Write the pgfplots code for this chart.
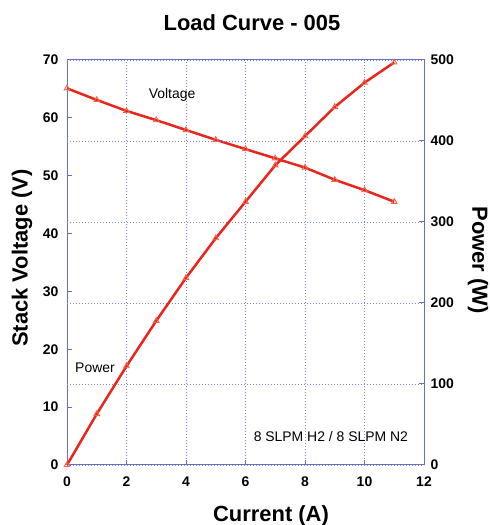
\documentclass[border=0pt]{standalone}
\usepackage{fontspec}
\setmainfont{Liberation Sans}
\usepackage{pgfplots}
\usepackage{pgfplotstable}
\pgfplotsset{compat=1.18}
\definecolor{axisblue}{RGB}{105,110,205}
\definecolor{curvered}{RGB}{232,38,30}
\definecolor{markred}{RGB}{242,100,75}
\pgfplotstableread{
I V P
0 65.1 0
1 63.1 63
2 61.2 122
3 59.6 178
4 57.9 231
5 56.2 280
6 54.6 325
7 53.0 370
8 51.4 406
9 49.3 442
10 47.5 472
11 45.5 497
}\datatable
\begin{document}
\begin{tikzpicture}
\path[use as bounding box] (0bp,0bp) rectangle (490bp,525bp);
\pgfplotsset{
  common/.style={
    at={(67bp,60bp)}, anchor=south west,
    scale only axis, width=357bp, height=405bp,
    xmin=0, xmax=12, clip=false,
    axis line style={axisblue, line width=1bp},
    major tick style={axisblue, line width=1bp},
    major tick length=5bp,
    tick align=inside,
    grid style={axisblue!85, line width=0.9bp, dash pattern=on 1bp off 2bp},
    /pgf/number format/assume math mode=true,
    tick label style={font=\fontsize{14}{14}\selectfont\bfseries, black},
  },
  curve/.style={curvered, line width=2.5bp, mark=triangle, mark size=3.2bp,
    mark options={markred, line width=0.9bp, solid}},
}
\begin{axis}[common, ymin=0, ymax=70,
  xtick={0,2,...,12}, ytick={0,10,...,70},
  xtick pos=bottom, ytick pos=left, xmajorgrids,
  yticklabel style={xshift=-5bp}, xticklabel style={yshift=-8bp}]
\addplot[curve] table[x=I,y=V]{\datatable};
\node[font=\fontsize{14}{14}\selectfont] at (axis cs:3.53,64.0) {Voltage};
\node[font=\fontsize{14}{14}\selectfont] at (axis cs:0.94,16.8) {Power};
\node[font=\fontsize{14}{14}\selectfont] at (axis cs:8.87,4.84) {8 SLPM H2 / 8 SLPM N2};
\end{axis}
\begin{axis}[common, ymin=0, ymax=500,
  axis x line=none, axis y line*=right,
  ytick={0,100,...,500}, ymajorgrids,
  yticklabel style={xshift=3bp}]
\addplot[curve] table[x=I,y=P]{\datatable};
\end{axis}
\node[font=\fontsize{22}{22}\selectfont\bfseries, anchor=base] at (252bp,494.5bp) {Load Curve - 005};
\node[font=\fontsize{22}{22}\selectfont\bfseries, anchor=base] at (271bp,4bp) {Current (A)};
\node[font=\fontsize{22}{22}\selectfont\bfseries, rotate=90] at (22bp,267bp) {Stack Voltage (V)};
\node[font=\fontsize{22}{22}\selectfont\bfseries, rotate=-90] at (478bp,265bp) {Power (W)};
\end{tikzpicture}
\end{document}
